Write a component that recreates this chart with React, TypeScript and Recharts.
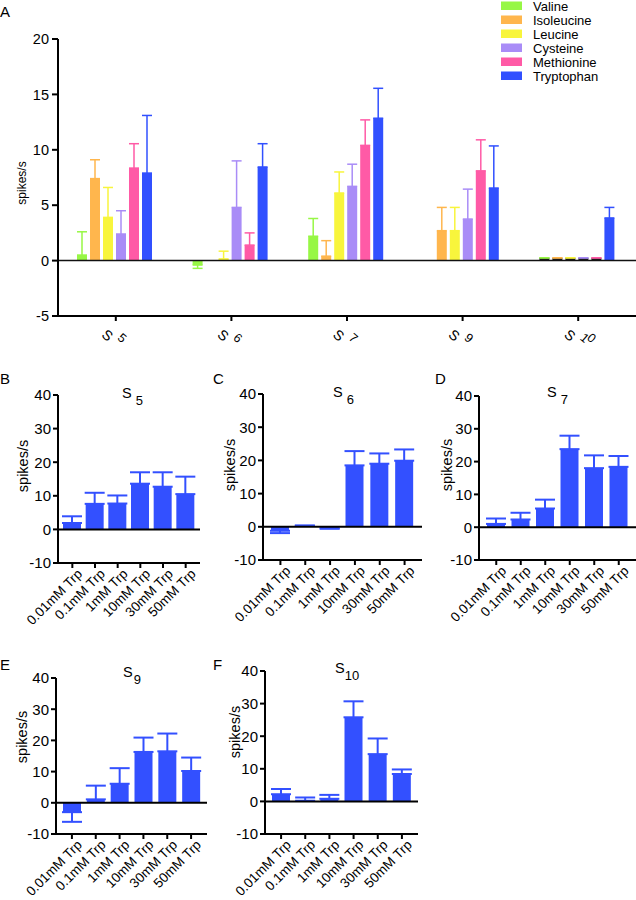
import React from 'react';
import { Bar, BarChart, Cell, ErrorBar, ReferenceLine, XAxis, YAxis } from 'recharts';

const FONT = '"Liberation Sans", Arial, sans-serif';

// panel A: mean and SEM per neuron
const neurons = ['5', '6', '7', '9', '10'];
const aminoAcids = ['Valine', 'Isoleucine', 'Leucine', 'Cysteine', 'Methionine', 'Tryptophan'];
const aaColors = ['#97f745', '#ffb64d', '#f8f53c', '#a98cf7', '#ff5aa6', '#3150ff'];
const valine = [0.5, -0.4, 2.2, 0, 0.25];
const valineSem = [2.1, 0.3, 1.6, 1.6, 0];
const isoleucine = [7.4, 0, 0.4, 2.7, 0.25];
const isoleucineSem = [1.7, 0, 1.4, 2.1, 0];
const leucine = [3.9, 0.15, 6.1, 2.7, 0.25];
const leucineSem = [2.7, 0.7, 1.9, 2.1, 0];
const cysteine = [2.4, 4.8, 6.7, 3.75, 0.25];
const cysteineSem = [2.1, 4.2, 2.0, 2.7, 0];
const methionine = [8.35, 1.4, 10.4, 8.1, 0.25];
const methionineSem = [2.2, 1.1, 2.3, 2.8, 0];
const tryptophan = [7.9, 8.45, 12.85, 6.55, 3.85];
const tryptophanSem = [5.2, 2.1, 2.7, 3.8, 0.95];
const topTicks = [-5, 0, 5, 10, 15, 20];

// panels B-F: tryptophan dose response
const doses = ['0.01mM Trp', '0.1mM Trp', '1mM Trp', '10mM Trp', '30mM Trp', '50mM Trp'];
const s5 = [1.9, 7.6, 7.7, 13.6, 12.7, 10.5];
const s5Sem = [2.0, 3.3, 2.4, 3.4, 4.3, 5.2];
const s6 = [-1.2, 0.3, -0.4, 18.5, 19.0, 19.9];
const s6Sem = [0.7, 0.1, 0.2, 4.3, 3.1, 3.4];
const s7 = [1.0, 2.35, 5.7, 23.8, 18.0, 18.4];
const s7Sem = [1.65, 2.05, 2.7, 4.1, 3.9, 3.3];
const s9 = [-3.0, 1.1, 6.1, 16.3, 16.5, 10.2];
const s9Sem = [3.1, 4.4, 5.0, 4.6, 5.7, 4.3];
const s10 = [2.2, 0.2, 0.8, 25.8, 14.5, 8.4];
const s10Sem = [1.6, 1.0, 1.2, 4.9, 4.8, 1.4];
const doseTicks = [-10, 0, 10, 20, 30, 40];

const BLUE = '#3350ff';

// only the outward half of the error bar is drawn
const oneSided = (v: number, e: number) => (v < 0 ? [e, 0] : [0, e]);

const topSeries = [
  [valine, valineSem],
  [isoleucine, isoleucineSem],
  [leucine, leucineSem],
  [cysteine, cysteineSem],
  [methionine, methionineSem],
  [tryptophan, tryptophanSem],
];

const topData = neurons.map((n, i) => {
  const row: any = { name: n };
  topSeries.forEach(([vals, sems], k) => {
    row['v' + k] = vals[i];
    row['e' + k] = oneSided(vals[i], sems[i]);
  });
  return row;
});

const makeDoseData = (vals: number[], sems: number[]) =>
  doses.map((d, i) => ({ name: d, value: vals[i], err: oneSided(vals[i], sems[i]) }));

const axisStyle = { stroke: '#000', strokeWidth: 2 };

const TopTick = ({ x, y, payload }: any) => (
  <g fill="#000" fontFamily={FONT}>
    <text x={x - 15} y={y + 13} fontSize={14} rotate="40">
      S
    </text>
    <text x={x + 1} y={y + 16} fontSize={12.5} rotate="40">
      {payload.value}
    </text>
  </g>
);

const DoseTick = ({ x, y, payload }: any) => (
  <g transform={`translate(${x + 4},${y - 2}) rotate(-45)`}>
    <text textAnchor="end" dy="0.71em" fontSize={13.5} fill="#000" fontFamily={FONT}>
      {payload.value}
    </text>
  </g>
);

interface PanelProps {
  vals: number[];
  sems: number[];
  axisX: number;
  axisRight: number;
  yTop: number;
  yBottom: number;
  pad: number;
}

const DosePanel = ({ vals, sems, axisX, axisRight, yTop, yBottom, pad }: PanelProps) => {
  const w = axisRight - axisX + 52;
  const h = yBottom - yTop + 10 + 80;
  return (
    <div style={{ position: 'absolute', left: axisX - 50, top: yTop - 10 }}>
      <BarChart
        width={w}
        height={h}
        data={makeDoseData(vals, sems)}
        margin={{ top: 10, left: 10, right: 2, bottom: 0 }}
        barSize={18}
      >
        <XAxis
          dataKey="name"
          height={80}
          interval={0}
          padding={{ left: pad, right: pad }}
          axisLine={axisStyle}
          tickLine={axisStyle}
          tickSize={5}
          tick={<DoseTick />}
        />
        <YAxis
          width={40}
          domain={[-10, 40]}
          ticks={doseTicks}
          allowDataOverflow
          axisLine={axisStyle}
          tickLine={axisStyle}
          tickSize={5}
          tickMargin={2}
          tick={{ fill: '#000', fontSize: 15, fontFamily: FONT }}
        />
        <Bar dataKey="value" fill={BLUE} isAnimationActive={false}>
          <ErrorBar dataKey="err" direction="y" width={10} stroke={BLUE} strokeWidth={2} />
        </Bar>
        <ReferenceLine y={0} stroke="#000" strokeWidth={2} />
      </BarChart>
    </div>
  );
};

const Label = ({ x, y, children, size = 15 }: any) => (
  <text x={x} y={y} fontSize={size} fill="#000" fontFamily={FONT}>
    {children}
  </text>
);

const YLabel = ({ x, y, size = 14.5 }: any) => (
  <text
    x={x}
    y={y}
    transform={`rotate(-90, ${x}, ${y})`}
    textAnchor="middle"
    dominantBaseline="central"
    fontSize={size}
    fill="#000"
    fontFamily={FONT}
  >
    spikes/s
  </text>
);

const Title = ({ x, y, sub, subDx }: any) => (
  <text x={x} y={y} fontSize={14.5} fill="#000" fontFamily={FONT}>
    S
    <tspan dx={subDx} dy={7} fontSize={13}>
      {sub}
    </tspan>
  </text>
);

export default function App() {
  return (
    <div style={{ position: 'absolute', left: 0, top: 0, width: 636, height: 900, background: '#fff' }}>
      <div style={{ position: 'absolute', left: 0, top: 0 }}>
        <BarChart
          width={636}
          height={354}
          data={topData}
          margin={{ top: 39, left: 18, right: 0, bottom: 0 }}
          barGap={3}
          barCategoryGap={19}
        >
          <XAxis
            dataKey="name"
            height={38}
            interval={0}
            axisLine={axisStyle}
            tickLine={axisStyle}
            tickSize={5}
            tick={<TopTick />}
          />
          <YAxis
            width={40}
            domain={[-5, 20]}
            ticks={topTicks}
            allowDataOverflow
            axisLine={axisStyle}
            tickLine={axisStyle}
            tickSize={6}
            tickMargin={3}
            tick={{ fill: '#000', fontSize: 14.5, fontFamily: FONT }}
          />
          {aminoAcids.map((aa, k) => (
            <Bar key={aa} dataKey={'v' + k} name={aa} fill={aaColors[k]} isAnimationActive={false}>
              {neurons.map((n, i) => (
                <Cell key={n} fill={k < 5 && i === 4 ? '#1c1c1c' : aaColors[k]} />
              ))}
              <ErrorBar dataKey={'e' + k} direction="y" width={5} stroke={aaColors[k]} strokeWidth={1.5} />
            </Bar>
          ))}
          <ReferenceLine y={0} stroke="#111" strokeWidth={1.5} />
        </BarChart>
      </div>

      <DosePanel vals={s5} sems={s5Sem} axisX={58} axisRight={200} yTop={395} yBottom={563} pad={3} />
      <DosePanel vals={s6} sems={s6Sem} axisX={263} axisRight={422} yTop={394} yBottom={560} pad={5} />
      <DosePanel vals={s7} sems={s7Sem} axisX={479} axisRight={636} yTop={396} yBottom={560} pad={5} />
      <DosePanel vals={s9} sems={s9Sem} axisX={56} axisRight={207} yTop={678} yBottom={834} pad={4} />
      <DosePanel vals={s10} sems={s10Sem} axisX={265} axisRight={418} yTop={671} yBottom={834} pad={4} />

      <svg
        width={636}
        height={900}
        style={{ position: 'absolute', left: 0, top: 0, pointerEvents: 'none' }}
      >
        <Label x={0} y={17}>A</Label>
        <Label x={0} y={384}>B</Label>
        <Label x={213} y={384}>C</Label>
        <Label x={435} y={384}>D</Label>
        <Label x={0} y={670}>E</Label>
        <Label x={213} y={670}>F</Label>

        <YLabel x={22} y={183} size={12} />
        <YLabel x={23} y={466} />
        <YLabel x={230} y={465} />
        <YLabel x={447} y={465} />
        <YLabel x={22} y={737} />
        <YLabel x={235} y={732} />

        <Title x={122} y={398} sub="5" subDx={4} />
        <Title x={333} y={397} sub="6" subDx={4} />
        <Title x={547} y={397} sub="7" subDx={4} />
        <Title x={123} y={677} sub="9" subDx={1} />
        <Title x={335} y={673} sub="10" subDx={0} />

        {aminoAcids.map((aa, k) => (
          <g key={aa}>
            <rect x={501} y={1.5 + k * 14} width={21} height={8.5} fill={aaColors[k]} />
            <text x={533} y={11 + k * 14} fontSize={13} fill="#000" fontFamily={FONT}>
              {aa}
            </text>
          </g>
        ))}
      </svg>
    </div>
  );
}
